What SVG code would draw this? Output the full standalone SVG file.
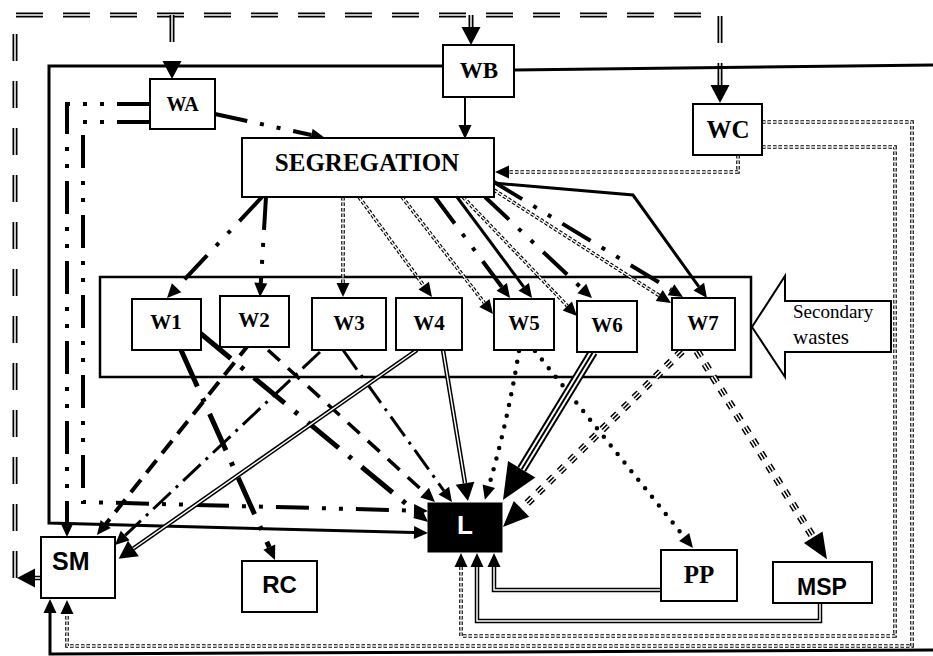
<svg xmlns="http://www.w3.org/2000/svg" width="933" height="656" viewBox="0 0 933 656">
<style>
.box{fill:#fff;stroke:#000;stroke-width:2}
.cont{fill:#fff;stroke:#000;stroke-width:2.5}
.ts{font-family:"Liberation Serif","Times New Roman",serif;font-weight:bold;text-anchor:middle;fill:#000}
.tn{font-family:"Liberation Serif","Times New Roman",serif;fill:#000}
.ta{font-family:"Liberation Sans",Arial,sans-serif;font-weight:bold;fill:#000}
#connectors path{fill:none}
.ah{fill:#000;stroke:none}
.solid{stroke:#000;stroke-width:3}
.thin{stroke:#000;stroke-width:2}
.ddd{stroke:#000;stroke-width:4;stroke-dasharray:33 13 4 13 4 13}
.dd{stroke:#000;stroke-width:5;stroke-dasharray:40 13 4 13}
.ddt{stroke:#000;stroke-width:3;stroke-dasharray:24 7 3 7}
.dash{stroke:#000;stroke-width:4;stroke-dasharray:16 9}
.dasht{stroke:#000;stroke-width:3.5;stroke-dasharray:16 11}
.dot{stroke:#000;stroke-width:4.5;stroke-linecap:round;stroke-dasharray:0 11}
.dbl-b{stroke:#000;stroke-width:4.5}
.dbl-w{stroke:#fff;stroke-width:1.5}
.dk-b{stroke:#000;stroke-width:5;stroke-dasharray:27 20}
.dk-w{stroke:#fff;stroke-width:1.5;stroke-dasharray:27 20}
.fn-b{stroke:#000;stroke-width:3.6;stroke-dasharray:3.5 2}
.fn-w{stroke:#fff;stroke-width:1.3;stroke-dasharray:3.5 2}
.tr-b{stroke:#000;stroke-width:10}
.tr-w{stroke:#fff;stroke-width:6}
.tr-c{stroke:#000;stroke-width:2}
.td-b{stroke:#000;stroke-width:7.5;stroke-dasharray:7 8}
.td-w{stroke:#fff;stroke-width:4.5;stroke-dasharray:7 8}
.td-c{stroke:#000;stroke-width:1.5;stroke-dasharray:7 8}
</style>
<defs>
<marker id="ms" markerUnits="userSpaceOnUse" orient="auto" markerWidth="14" markerHeight="13" refX="0" refY="6.5" overflow="visible"><path class="ah" d="M0 0L14 6.5L0 13z"/></marker>
<marker id="mm" markerUnits="userSpaceOnUse" orient="auto" markerWidth="18" markerHeight="19" refX="0" refY="9.5" overflow="visible"><path class="ah" d="M0 0L18 9.5L0 19z"/></marker>
<marker id="ml" markerUnits="userSpaceOnUse" orient="auto" markerWidth="26" markerHeight="22" refX="0" refY="11" overflow="visible"><path class="ah" d="M0 0L26 11L0 22z"/></marker>
<marker id="mx" markerUnits="userSpaceOnUse" orient="auto" markerWidth="36" markerHeight="32" refX="0" refY="16" overflow="visible"><path class="ah" d="M0 0L36 16L0 32z"/></marker>
</defs>
<rect width="933" height="656" fill="#fff"/>

<g id="container">
<rect class="cont" x="100" y="277" width="651" height="100"/>
</g>

<g id="connectors">
<path class="dk-b" d="M15 578L15 15L720 15L720 85" marker-end="url(#mm)"/>
<path class="dk-w" d="M15 578L15 15L720 15L720 85"/>
<path class="dk-b" d="M172 15L172 61" marker-end="url(#mm)"/>
<path class="dk-w" d="M172 15L172 61"/>
<path class="dk-b" d="M471 15L471 27" marker-end="url(#mm)"/>
<path class="dk-w" d="M471 15L471 27"/>
<path class="dbl-b" d="M41 578L35 578" marker-end="url(#mm)"/>
<path class="dbl-w" d="M41 578L35 578"/>

<path class="solid" d="M443 66L49 66L49 523L414 532.6" marker-end="url(#ms)"/>
<path class="solid" d="M514 70L933 65"/>
<path class="solid" d="M933 650L50 654L50 613" marker-end="url(#ms)"/>
<path class="thin" d="M465 97L465 125" marker-end="url(#ms)"/>

<path class="ddd" d="M215 114L311.3 135" marker-end="url(#ms)"/>
<path class="ddd" d="M150 104L67 104L67 523" marker-end="url(#ms)"/>
<path class="ddd" d="M150 122L83 122L83 502L414 510.6" marker-end="url(#ms)"/>

<path class="fn-b" d="M738 155L738 172L509 172" marker-end="url(#ms)"/>
<path class="fn-w" d="M738 155L738 172L509 172"/>
<path class="fn-b" d="M762 147L895 147L895 636L461 636L461 567" marker-end="url(#ms)"/>
<path class="fn-w" d="M762 147L895 147L895 636L461 636L461 567"/>
<path class="fn-b" d="M762 122L912 122L912 646L67 646L67 614" marker-end="url(#ms)"/>
<path class="fn-w" d="M762 122L912 122L912 646L67 646L67 614"/>

<path class="ddd" d="M262 197L176.6 287.8" marker-end="url(#ms)"/>
<path class="ddd" d="M266 197L260.8 283" marker-end="url(#ms)"/>
<path class="fn-b" d="M343 197L343 283" marker-end="url(#ms)"/>
<path class="fn-w" d="M343 197L343 283"/>
<path class="fn-b" d="M359 197L423.7 285.7" marker-end="url(#ms)"/>
<path class="fn-w" d="M359 197L423.7 285.7"/>
<path class="fn-b" d="M402 197L484.4 303" marker-end="url(#ms)"/>
<path class="fn-w" d="M402 197L484.4 303"/>
<path class="ddd" d="M435 197L501.7 286.8" marker-end="url(#ms)"/>
<path class="solid" d="M457 197L523.7 286.8" marker-end="url(#ms)"/>
<path class="fn-b" d="M463 197L567.3 305.9" marker-end="url(#ms)"/>
<path class="fn-w" d="M463 197L567.3 305.9"/>
<path class="ddd" d="M485 197L581.8 288.4" marker-end="url(#ms)"/>
<path class="fn-b" d="M494 190L659.2 295.5" marker-end="url(#ms)"/>
<path class="fn-w" d="M494 190L659.2 295.5"/>
<path class="ddd" d="M494 182L671 289.7" marker-end="url(#ms)"/>
<path class="solid" d="M494 183L633 195L698.8 286.6" marker-end="url(#ms)"/>

<path class="dd" d="M181 350L269.3 547.2" marker-end="url(#ms)"/>
<path class="dd" d="M200 333L417.3 513" marker-end="url(#ms)"/>
<path class="dash" d="M250 343L105.7 524" marker-end="url(#ms)"/>
<path class="dasht" d="M268 350L424.6 492.6" marker-end="url(#ms)"/>
<path class="ddt" d="M320 352L125.2 535.4" marker-end="url(#ms)"/>
<path class="ddt" d="M343 350L443.8 490.6" marker-end="url(#ms)"/>
<path class="dbl-b" d="M417 350L133.4 548.5" marker-end="url(#mm)"/>
<path class="dbl-w" d="M417 350L133.4 548.5"/>
<path class="dbl-b" d="M443 350L465 483.2" marker-end="url(#mm)"/>
<path class="dbl-w" d="M443 350L465 483.2"/>
<path class="dot" d="M519 351Q508 420 488.8 486.3" marker-end="url(#ms)"/>
<path class="dot" d="M535 351L684.2 537" marker-end="url(#ms)"/>
<path class="tr-b" d="M593 352L521.7 469.2" marker-end="url(#mx)"/>
<path class="tr-w" d="M593 352L521.7 469.2"/>
<path class="tr-c" d="M593 352L521.7 469.2"/>
<path class="td-b" d="M682 351L521.5 508.8" marker-end="url(#ml)"/>
<path class="td-w" d="M682 351L521.5 508.8"/>
<path class="td-c" d="M682 351L521.5 508.8"/>
<path class="td-b" d="M697 351L813.2 537.3" marker-end="url(#ml)"/>
<path class="td-w" d="M697 351L813.2 537.3"/>
<path class="td-c" d="M697 351L813.2 537.3"/>

<path class="dbl-b" d="M661 590L494 590L494 567" marker-end="url(#ms)"/>
<path class="dbl-w" d="M661 590L494 590L494 567"/>
<path class="dbl-b" d="M820 603L820 621L477 621L477 567" marker-end="url(#ms)"/>
<path class="dbl-w" d="M820 603L820 621L477 621L477 567"/>
</g>

<g id="secondary-wastes">
<polygon points="752,327 785,276 785,301 891,301 891,352 785,352 785,377" fill="#fff" stroke="#000" stroke-width="2"/>
<text class="tn" x="793" y="318" font-size="19">Secondary</text>
<text class="tn" x="793" y="344" font-size="21">wastes</text>
</g>

<g id="WA"><rect class="box" x="150" y="79" width="65" height="50"/><text class="ts" x="182.5" y="111" font-size="20">WA</text></g>
<g id="WB"><rect class="box" x="443" y="45" width="71" height="52"/><text class="ts" x="479" y="78" font-size="23">WB</text></g>
<g id="WC"><rect class="box" x="693" y="104" width="69" height="51"/><text class="ts" x="728" y="138" font-size="25">WC</text></g>
<g id="SEGREGATION"><rect class="box" x="242" y="138" width="252" height="59"/><text class="ts" x="367" y="171" font-size="25">SEGREGATION</text></g>
<g id="W1"><rect class="box" x="132" y="299" width="69" height="51"/><text class="ts" x="166" y="329" font-size="21">W1</text></g>
<g id="W2"><rect class="box" x="220" y="296" width="69" height="51"/><text class="ts" x="254" y="327" font-size="21">W2</text></g>
<g id="W3"><rect class="box" x="312" y="298" width="74" height="52"/><text class="ts" x="349" y="330" font-size="21">W3</text></g>
<g id="W4"><rect class="box" x="396" y="298" width="66" height="52"/><text class="ts" x="429" y="330" font-size="21">W4</text></g>
<g id="W5"><rect class="box" x="494" y="299" width="60" height="51"/><text class="ts" x="524" y="330" font-size="21">W5</text></g>
<g id="W6"><rect class="box" x="577" y="301" width="60" height="51"/><text class="ts" x="607" y="332" font-size="21">W6</text></g>
<g id="W7"><rect class="box" x="672" y="298" width="63" height="52"/><text class="ts" x="703" y="330" font-size="21">W7</text></g>
<g id="L"><rect x="428" y="503" width="74" height="49" fill="#000" stroke="#000" stroke-width="1"/><text class="ta" x="465" y="534" font-size="26" text-anchor="middle" style="fill:#fff">L</text></g>
<g id="SM"><rect class="box" x="41" y="537" width="74" height="61"/><text class="ta" x="52" y="570" font-size="25">SM</text></g>
<g id="RC"><rect class="box" x="242" y="561" width="75" height="51"/><text class="ta" x="279.5" y="593" font-size="24" text-anchor="middle">RC</text></g>
<g id="PP"><rect class="box" x="661" y="550" width="76" height="51"/><text class="ts" x="699" y="583" font-size="25">PP</text></g>
<g id="MSP"><rect class="box" x="773" y="562" width="99" height="41"/><text class="ta" x="822" y="595" font-size="23" text-anchor="middle">MSP</text></g>
</svg>
